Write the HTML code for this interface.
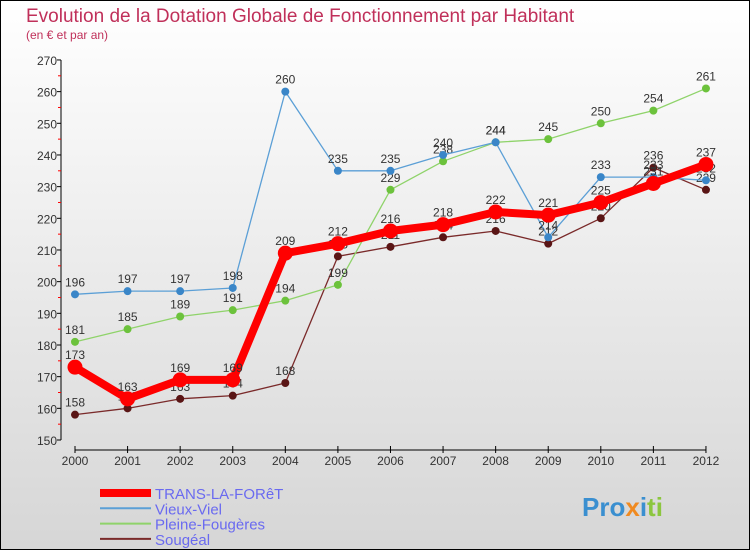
<!DOCTYPE html>
<html><head><meta charset="utf-8"><style>
body{margin:0}
svg{display:block;font-family:"Liberation Sans",sans-serif}
</style></head><body>
<svg id="chart" width="750" height="550" xmlns="http://www.w3.org/2000/svg">
<defs><linearGradient id="bg" x1="0" y1="0" x2="0" y2="1"><stop offset="0" stop-color="#ffffff"/><stop offset="1" stop-color="#d6d6d6"/></linearGradient></defs>
<rect x="0.5" y="0.5" width="749" height="549" fill="url(#bg)" stroke="#000"/>
<text x="26" y="22" font-size="19" fill="#c0305a">Evolution de la Dotation Globale de Fonctionnement par Habitant</text>
<text x="26" y="39" font-size="12" fill="#c0305a">(en € et par an)</text>
<g id="axes"></g><g id="series"></g><g id="legend"></g>
<text x="582" y="516" font-size="26" font-weight="bold"><tspan fill="#3a8fd0">Pro</tspan><tspan fill="#f08a20">x</tspan><tspan fill="#3a8fd0">i</tspan><tspan fill="#8cc63f">ti</tspan></text>
</svg>
<script>
const years=[2000,2001,2002,2003,2004,2005,2006,2007,2008,2009,2010,2011,2012];
const yTicks=[150,160,170,180,190,200,210,220,230,240,250,260,270];
const trans=[173,163,169,169,209,212,216,218,222,221,225,231,237];
const vieux=[196,197,197,198,260,235,235,240,244,214,233,233,232];
const pleine=[181,185,189,191,194,199,229,238,244,245,250,254,261];
const sougeal=[158,160,163,164,168,208,211,214,216,212,220,236,229];
const NS="http://www.w3.org/2000/svg";
const x=i=>75+i*52.58;
const y=v=>440-(v-150)*3.167;
function mk(p,t,a){const e=document.createElementNS(NS,t);for(const k in a)e.setAttribute(k,a[k]);p.appendChild(e);return e;}
const ax=document.getElementById('axes');
let l=mk(ax,'line',{x1:61,y1:60,x2:61,y2:440,stroke:'#000'});


l=mk(ax,'line',{x1:x(0),y1:450,x2:x(12),y2:450,stroke:'#000'});


yTicks.forEach((v,i)=>{
 mk(ax,'line',{x1:57,y1:y(v),x2:61,y2:y(v),stroke:'#000'});
 if(i<yTicks.length-1) mk(ax,'line',{x1:58,y1:y(v+5),x2:61,y2:y(v+5),stroke:'#f00'});
 const t=mk(ax,'text',{x:57,y:y(v)+5,'font-size':12,fill:'#333','text-anchor':'end'});
 t.textContent=v;
 
 
});
years.forEach((yr,i)=>{
 mk(ax,'line',{x1:x(i),y1:446,x2:x(i),y2:453,stroke:'#000'});
 const t=mk(ax,'text',{x:x(i),y:465,'font-size':12,fill:'#333','text-anchor':'middle'});
 t.textContent=yr;
 
 
});
const sg=document.getElementById('series');
const defs=[
 {d:sougeal,c:'#7a2a2a',pc:'#5a1515',w:1.3,r:4,n:'sougeal'},
 {d:pleine,c:'#8fd36a',pc:'#6cc23c',w:1.3,r:4,n:'pleine-fougeres'},
 {d:vieux,c:'#5b9fd6',pc:'#3a86c8',w:1.3,r:4,n:'vieux-viel'},
 {d:trans,c:'#ff0000',pc:'#ff0000',w:8,r:7.5,n:'trans-la-foret'}];
defs.forEach(s=>{
 const g=mk(sg,'g',{});
 
 
 const pl=mk(g,'polyline',{points:s.d.map((v,i)=>x(i)+','+y(v)).join(' '),fill:'none',stroke:s.c,'stroke-width':s.w,'stroke-linejoin':'round'});
 
 
 s.d.forEach((v,i)=>{
  const c=mk(g,'circle',{cx:x(i),cy:y(v),r:s.r,fill:s.pc});
  
  
  const t=mk(g,'text',{x:x(i),y:y(v)-8,'font-size':12,fill:'#333','text-anchor':'middle'});
  t.textContent=v;
  
  
 });
});
const lg=document.getElementById('legend');
[['TRANS-LA-FORêT','#ff0000',8],['Vieux-Viel','#5b9fd6',2],['Pleine-Fougères','#8fd36a',2],['Sougéal','#7a2a2a',2]].forEach((e,i)=>{
 const yy=493+i*15.3;
 const g=mk(lg,'g',{});
 
 
 mk(g,'line',{x1:100,y1:yy,x2:151,y2:yy,stroke:e[1],'stroke-width':e[2]});
 const t=mk(g,'text',{x:155,y:yy+6,'font-size':15,fill:'#6a6af0'});
 t.textContent=e[0];
});
</script>
</body></html>
